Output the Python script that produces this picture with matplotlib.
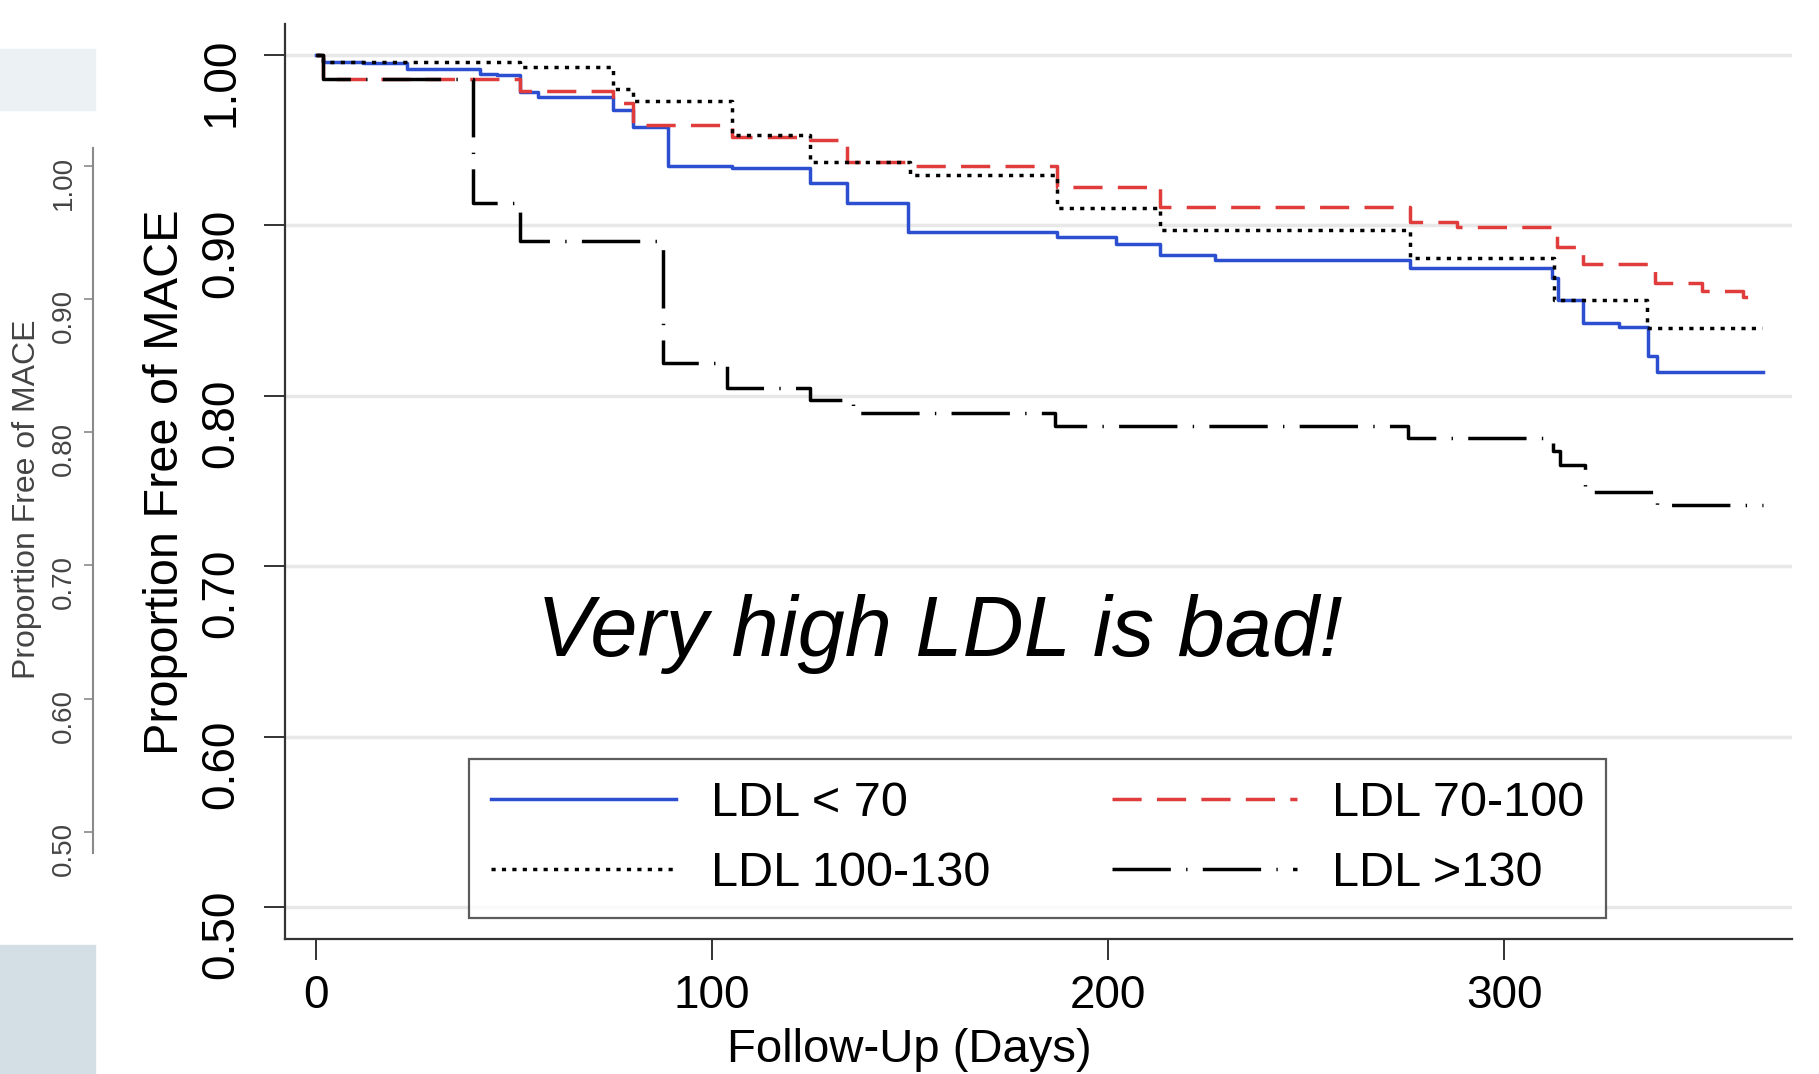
import matplotlib
matplotlib.use("Agg")
import matplotlib.pyplot as plt
from matplotlib.patches import Rectangle

plt.rcParams['font.family'] = ['Liberation Sans', 'DejaVu Sans']
plt.rcParams['lines.scale_dashes'] = False

# Kaplan-Meier step data (days, proportion free of MACE)
t_lt70 = [0, 1.8, 11.9, 22.9, 41.4, 45.6, 51.5, 56.1, 75.1, 80.1, 88.9, 105, 124.7,
          134, 149.5, 187, 202, 213, 227, 276.3, 312, 313.5, 320, 329, 336.4, 338.6, 365.5]
s_lt70 = [1.0, 0.996, 0.995, 0.9915, 0.989, 0.988, 0.9784, 0.9755, 0.9676, 0.9575, 0.935,
          0.9334, 0.9246, 0.9132, 0.8962, 0.8933, 0.889, 0.8825, 0.8796, 0.8747, 0.8689,
          0.856, 0.8428, 0.8405, 0.8233, 0.814, 0.814]

t_70_100 = [0, 1.8, 51.5, 75.1, 80.1, 105, 124.7, 134, 150, 187, 213, 276.3, 288,
            313.3, 320, 338, 350, 360.3, 365]
s_70_100 = [1.0, 0.986, 0.979, 0.972, 0.959, 0.952, 0.950, 0.937, 0.9347, 0.9226, 0.9109,
            0.902, 0.899, 0.8874, 0.8773, 0.866, 0.8616, 0.858, 0.858]

t_100_130 = [0, 1.8, 51.5, 75.1, 80.1, 105, 124.7, 150, 187, 213, 276.3, 312.5, 336, 365]
s_100_130 = [1.0, 0.996, 0.993, 0.980, 0.9729, 0.953, 0.9373, 0.9295, 0.910, 0.8972,
             0.8806, 0.8561, 0.8396, 0.8396]

t_gt130 = [0, 1.8, 39.7, 51.5, 87.7, 103.7, 124.7, 135.6, 186.6, 275.8, 312.4, 314.1,
           320.5, 338.6, 365.4]
s_gt130 = [1.0, 0.986, 0.913, 0.891, 0.8194, 0.8043, 0.7975, 0.790, 0.7822, 0.775,
           0.7677, 0.7593, 0.7437, 0.7359, 0.7359]

labels = ['LDL < 70', 'LDL 100-130', 'LDL 70-100', 'LDL >130']
y_ticks = [0.50, 0.60, 0.70, 0.80, 0.90, 1.00]
x_ticks = [0, 100, 200, 300]

W, H = 1819, 1074
fig = plt.figure(figsize=(W / 100, H / 100), dpi=100)

# bits of a neighbouring slide visible on the left edge
fig.patches.append(Rectangle((0, 1 - 110 / H), 95 / W, 61 / H, transform=fig.transFigure,
                             color='#ecf1f3', zorder=0))
fig.patches.append(Rectangle((0, 0), 95 / W, 129 / H, transform=fig.transFigure,
                             color='#d3dfe5', zorder=0))
ax2 = fig.add_axes([93 / W, 1 - 853 / H, 0.0005, 705 / H])
ax2.set_ylim(0.484, 1.0135)
ax2.set_xticks([])
for side in ['top', 'right', 'bottom']:
    ax2.spines[side].set_visible(False)
ax2.spines['left'].set_color('#8a8a8a')
ax2.spines['left'].set_linewidth(1.5)
ax2.set_yticks(y_ticks)
ax2.set_yticklabels(['%.2f' % v for v in y_ticks])
ax2.tick_params(axis='y', length=6.5, width=1.2, color='#8a8a8a', labelsize=20,
                labelcolor='#444444', labelrotation=90, pad=5)
ax2.set_ylabel('Proportion Free of MACE', fontsize=23, color='#444444')
ax2.yaxis.set_label_coords(42 / W, 0.535, transform=fig.transFigure)
ax2.patch.set_visible(False)

# main chart
ax = fig.add_axes([285 / W, 1 - 939 / H, (1792 - 285) / W, (939 - 24) / H])
ax.set_xlim(-7.83, 372.7)
ax.set_ylim(0.4812, 1.0181)

lw = 2.5
l1, = ax.step(t_lt70, s_lt70, where='post', color='#2b4fd0', lw=lw)
l2, = ax.step(t_70_100, s_70_100, where='post', color='#e03c3c', lw=lw,
              linestyle=(0, (21, 11)))
l3, = ax.step(t_100_130, s_100_130, where='post', color='black', lw=lw,
              linestyle=(0, (3, 4.5)))
l4, = ax.step(t_gt130, s_gt130, where='post', color='black', lw=lw,
              linestyle=(0, (42, 11, 1, 11)))

ax.set_yticks(y_ticks)
ax.set_yticklabels(['%.2f' % v for v in y_ticks])
ax.set_xticks(x_ticks)
ax.yaxis.grid(True, color='#e8e8e8', lw=2.5)
ax.set_axisbelow(True)
for side in ['top', 'right']:
    ax.spines[side].set_visible(False)
for side in ['left', 'bottom']:
    ax.spines[side].set_color('#333333')
    ax.spines[side].set_linewidth(1.6)
ax.tick_params(axis='both', length=15, width=1.4, color='#333333', labelsize=33)
ax.tick_params(axis='y', labelrotation=90, pad=15)
ax.tick_params(axis='x', pad=10)

ax.set_ylabel('Proportion Free of MACE', fontsize=35)
ax.yaxis.set_label_coords(188 / W, 1 - 482 / H, transform=fig.transFigure)
ax.set_xlabel('Follow-Up (Days)', fontsize=34)
ax.xaxis.set_label_coords(0.5, 1 - 1028 / H, transform=fig.transFigure)

ax.text(157.4, 0.647, 'Very high LDL is bad!', fontsize=61, style='italic',
        ha='center', va='baseline')

leg = ax.legend([l1, l3, l2, l4], labels, ncol=2, loc='center',
                bbox_to_anchor=(1037.5 / W, 1 - 838.5 / H), bbox_transform=fig.transFigure,
                fontsize=35, frameon=True, fancybox=False, handlelength=3.8,
                handletextpad=0.72, columnspacing=2.5, labelspacing=0.52, borderpad=0.45)
leg.get_frame().set_edgecolor('#333333')
leg.get_frame().set_linewidth(1.6)

fig.savefig('out.png', dpi=100)
